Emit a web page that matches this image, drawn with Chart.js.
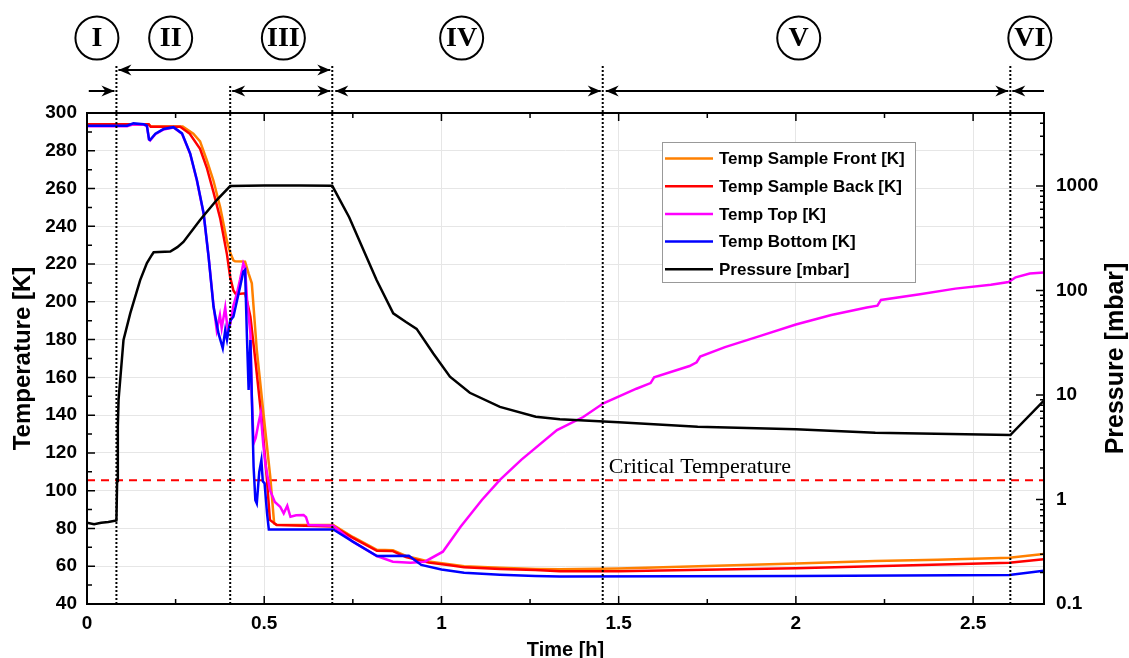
<!DOCTYPE html>
<html>
<head>
<meta charset="utf-8">
<script src="https://cdn.jsdelivr.net/npm/chart.js@4.4.1/dist/chart.umd.min.js"></script>
<style>
  html, body { margin: 0; padding: 0; background: #fff; }
  #wrap { width: 1129px; height: 658px; }
</style>
</head>
<body>
<div id="wrap"><canvas id="grafico" width="1129" height="658"></canvas></div>
<script>
'use strict';

// ── Data ────────────────────────────────────────────────────────
const frontTime = [0, 0.174, 0.18, 0.27, 0.30, 0.319, 0.338, 0.357, 0.376, 0.395,
  0.404, 0.413, 0.418, 0.446, 0.456, 0.465, 0.479, 0.503, 0.517, 0.528,
  0.535, 0.695, 0.75, 0.818, 0.863, 0.90, 0.964, 1.064, 1.165, 1.265,
  1.334, 1.5, 1.7, 2.0, 2.224, 2.4, 2.602, 2.699];
const frontTemp = [294, 294, 292.8, 292.8, 289, 285, 275, 264, 250, 232,
  226, 222, 221.5, 221.3, 215, 209.8, 174.5, 132, 107.4, 82.7,
  82, 81.8, 75.5, 68.7, 68.5, 65.5, 62.5, 60, 59.2, 58.6,
  58.4, 58.8, 59.8, 61.5, 62.8, 63.4, 64.5, 66.5];

const backTime = [0, 0.174, 0.18, 0.263, 0.29, 0.319, 0.338, 0.357, 0.376, 0.395,
  0.404, 0.413, 0.42, 0.446, 0.452, 0.461, 0.475, 0.494, 0.507, 0.516,
  0.535, 0.695, 0.75, 0.818, 0.863, 0.90, 0.964, 1.024, 1.064, 1.165,
  1.265, 1.334, 1.5, 1.7, 2.0, 2.357, 2.602, 2.699];
const backTemp = [294, 294, 292.7, 292.7, 289, 281, 271, 258, 244, 225,
  213, 206, 204, 204.5, 200, 192.1, 169, 135.8, 107.4, 84.5,
  81.8, 81, 75, 68.2, 68, 64.8, 61.9, 60.5, 59.4, 58.5,
  58.0, 57.4, 57.4, 58, 58.9, 60.7, 61.9, 63.7];

const topTime = [0, 0.113, 0.131, 0.16, 0.169, 0.175, 0.178, 0.193, 0.216, 0.244,
  0.268, 0.291, 0.310, 0.329, 0.343, 0.357, 0.366, 0.375, 0.380, 0.390,
  0.397, 0.404, 0.413, 0.423, 0.432, 0.441, 0.446, 0.452, 0.461, 0.465,
  0.470, 0.476, 0.484, 0.490, 0.497, 0.503, 0.516, 0.530, 0.545, 0.555,
  0.565, 0.574, 0.590, 0.611, 0.618, 0.625, 0.695, 0.75, 0.818, 0.863,
  0.913, 0.953, 1.004, 1.054, 1.114, 1.165, 1.225, 1.326, 1.40, 1.457,
  1.55, 1.59, 1.60, 1.70, 1.72, 1.73, 1.80, 1.90, 2.00, 2.10,
  2.20, 2.23, 2.24, 2.35, 2.45, 2.55, 2.60, 2.62, 2.66, 2.70];
const topTemp = [293, 293, 294, 293.8, 293, 286, 285.5, 288.8, 291.3, 292.3,
  289, 278.4, 264.3, 246.7, 224, 198, 185, 193, 186, 197,
  185, 188, 198, 204.5, 212, 220.4, 218, 200, 183.3, 150,
  125, 128, 135.8, 141, 125, 114.5, 100.4, 94, 91.5, 88,
  92, 86.2, 87, 87.1, 86, 81.8, 81.5, 73, 65.4, 62.4,
  61.9, 62.4, 67.7, 80.9, 95.1, 105.7, 116.3, 132.1, 139, 146.3,
  154, 157, 160, 166, 168, 171, 176, 182, 188, 193,
  197, 198, 201, 204, 207, 209, 210.5, 213, 215, 215.5];

const bottomTime = [0, 0.113, 0.131, 0.16, 0.169, 0.175, 0.178, 0.193, 0.216, 0.244,
  0.268, 0.291, 0.310, 0.329, 0.343, 0.357, 0.371, 0.383, 0.390, 0.395,
  0.404, 0.413, 0.432, 0.441, 0.446, 0.451, 0.456, 0.461, 0.470, 0.475,
  0.479, 0.486, 0.492, 0.496, 0.501, 0.508, 0.513, 0.695, 0.75, 0.818,
  0.908, 0.943, 1.0, 1.064, 1.165, 1.265, 1.334, 2.0, 2.602, 2.699];
const bottomTemp = [293.3, 293.3, 294.5, 294, 293.3, 286, 285.7, 289, 291.5, 292.5,
  289.2, 278.6, 264.5, 246.9, 223.9, 197.4, 183.3, 175.4, 185, 180,
  190, 192.1, 208, 216, 216.9, 183, 153.3, 179.8, 112.7, 95,
  93.3, 110, 116.2, 105, 103.9, 88, 79.5, 79.5, 73, 65.4,
  65.5, 60.7, 58.3, 56.6, 55.5, 54.8, 54.5, 54.8, 55.4, 57.6];

const pressureTime = [0, 0.02, 0.04, 0.06, 0.083, 0.085, 0.087, 0.089, 0.103, 0.122,
  0.150, 0.169, 0.183, 0.188, 0.235, 0.255, 0.272, 0.319, 0.366, 0.404,
  0.5, 0.6, 0.692, 0.74, 0.78, 0.817, 0.864, 0.90, 0.93, 0.977,
  1.024, 1.08, 1.165, 1.266, 1.334, 1.5, 1.723, 2.0, 2.224, 2.605,
  2.699];
const pressureVal = [0.6, 0.58, 0.6, 0.61, 0.63, 1.5, 5, 9, 33.6, 60.5,
  126, 183, 219, 232, 236, 260, 292, 473, 735, 1000,
  1010, 1010, 1005, 500, 244, 126, 60.5, 50, 43, 25,
  15, 10.5, 7.7, 6.2, 5.86, 5.5, 4.98, 4.7, 4.36, 4.14,
  8.8];

const criticalTemp = 105.5;
const phaseBounds = [0.083, 0.404, 0.692, 1.455, 2.605];
const phaseNames = ['I', 'II', 'III', 'IV', 'V', 'VI'];
const phaseLabelAt = [0.028, 0.236, 0.554, 1.057, 2.008, 2.66];
const pressureTicks = [0.1, 1, 10, 100, 1000];

const seriesNames = ['Temp Sample Front [K]', 'Temp Sample Back [K]', 'Temp Top [K]', 'Temp Bottom [K]', 'Pressure [mbar]'];
const seriesColors = ['#ff8000', '#ff0000', '#ff00ff', '#0000ff', '#000000'];

const FONT = "'Liberation Sans', Arial, sans-serif";
const SERIF = "'Liberation Serif', 'Times New Roman', serif";

function serie(times, values) {
  return times.map((t, i) => ({ x: t, y: values[i] }));
}

// ── Phase markers, frame, inner ticks, legend ───────────────────
function punta(ctx, x, yy, dir) {
  ctx.beginPath();
  ctx.moveTo(x, yy);
  ctx.lineTo(x - dir * 13, yy - 5.5);
  ctx.lineTo(x - dir * 9, yy);
  ctx.lineTo(x - dir * 13, yy + 5.5);
  ctx.closePath();
  ctx.fill();
}

function freccia(ctx, x1, x2, yy, head1, head2) {
  ctx.beginPath();
  ctx.moveTo(x1, yy);
  ctx.lineTo(x2, yy);
  ctx.stroke();
  const d = x2 > x1 ? 1 : -1;
  if (head1) punta(ctx, x1, yy, -d);
  if (head2) punta(ctx, x2, yy, d);
}

const decorPlugin = {
  id: 'decor',
  afterDraw(chart) {
    const { ctx, chartArea: a, scales } = chart;
    const sx = scales.x, sy = scales.y, sp = scales.p;
    ctx.save();
    ctx.strokeStyle = '#000';
    ctx.fillStyle = '#000';

    // inner ticks
    ctx.lineWidth = 1.5;
    ctx.beginPath();
    for (let t = 0; t <= 2.7001; t += 0.25) {
      const px = sx.getPixelForValue(t);
      const len = Math.abs(t / 0.5 - Math.round(t / 0.5)) < 1e-6 ? 8 : 5;
      ctx.moveTo(px, a.bottom); ctx.lineTo(px, a.bottom - len);
      ctx.moveTo(px, a.top); ctx.lineTo(px, a.top + len);
    }
    for (let v = 40; v <= 300; v += 10) {
      const py = sy.getPixelForValue(v);
      const len = v % 20 === 0 ? 8 : 5;
      ctx.moveTo(a.left, py); ctx.lineTo(a.left + len, py);
    }
    for (let d = -1; d <= 3; d++) {
      for (let k = 1; k <= 9; k++) {
        const v = k * Math.pow(10, d);
        if (v > 5000) break;
        const py = sp.getPixelForValue(v);
        const len = k === 1 ? 8 : 4;
        ctx.moveTo(a.right, py); ctx.lineTo(a.right - len, py);
      }
    }
    ctx.stroke();

    // frame
    ctx.lineWidth = 2;
    ctx.strokeRect(a.left, a.top, a.right - a.left, a.bottom - a.top);

    // dotted phase boundaries
    ctx.setLineDash([2, 2]);
    phaseBounds.forEach((t, i) => {
      const px = sx.getPixelForValue(t);
      ctx.beginPath();
      ctx.moveTo(px, i === 1 ? 86 : 66);
      ctx.lineTo(px, a.bottom);
      ctx.stroke();
    });
    ctx.setLineDash([]);

    // arrows
    const b = phaseBounds.map(t => sx.getPixelForValue(t));
    const row1 = 70, row2 = 91;
    ctx.lineWidth = 2;
    freccia(ctx, b[0] + 2, b[2] - 2, row1, true, true);
    freccia(ctx, sx.getPixelForValue(0.005), b[0] - 2, row2, false, true);
    freccia(ctx, b[1] + 2, b[2] - 2, row2, true, true);
    freccia(ctx, b[2] + 3, b[3] - 2, row2, true, true);
    freccia(ctx, b[3] + 3, b[4] - 2, row2, true, true);
    freccia(ctx, a.right, b[4] + 2, row2, false, true);

    // roman numerals in circles
    ctx.font = 'bold 28px ' + SERIF;
    ctx.textAlign = 'center';
    ctx.textBaseline = 'middle';
    phaseNames.forEach((n, i) => {
      const cx = sx.getPixelForValue(phaseLabelAt[i]);
      ctx.beginPath();
      ctx.arc(cx, 38, 21.5, 0, Math.PI * 2);
      ctx.stroke();
      ctx.fillText(n, cx, 39);
    });

    // critical temperature label
    ctx.font = '22px ' + SERIF;
    ctx.textAlign = 'left';
    ctx.textBaseline = 'alphabetic';
    ctx.fillText('Critical Temperature', b[3] + 6, 473);

    // right axis title (reads bottom to top)
    ctx.save();
    ctx.translate(1116, (a.top + a.bottom) / 2);
    ctx.rotate(-Math.PI / 2);
    ctx.font = 'bold 25px ' + FONT;
    ctx.textAlign = 'center';
    ctx.textBaseline = 'middle';
    ctx.fillText('Pressure [mbar]', 0, 0);
    ctx.restore();

    // legend
    ctx.fillStyle = '#fff';
    ctx.fillRect(662, 142, 253, 140);
    ctx.strokeStyle = '#999';
    ctx.lineWidth = 1;
    ctx.strokeRect(662.5, 142.5, 253, 140);
    ctx.font = 'bold 17px ' + FONT;
    ctx.textBaseline = 'middle';
    ctx.textAlign = 'left';
    seriesNames.forEach((n, i) => {
      const yy = 158.5 + i * 27.7;
      ctx.strokeStyle = seriesColors[i];
      ctx.lineWidth = 2.5;
      ctx.beginPath();
      ctx.moveTo(665, yy); ctx.lineTo(713, yy);
      ctx.stroke();
      ctx.fillStyle = '#000';
      ctx.fillText(n, 719, yy + 1);
    });
    ctx.restore();
  }
};

// ── Chart ───────────────────────────────────────────────────────
const ctx = document.getElementById('grafico').getContext('2d');

const lineDs = (i, times, values, axis, order) => ({
  label: seriesNames[i],
  data: serie(times, values),
  borderColor: seriesColors[i],
  borderWidth: 2.5,
  yAxisID: axis,
  order: order
});

new Chart(ctx, {
  type: 'line',
  data: {
    datasets: [
      lineDs(0, frontTime, frontTemp, 'y', 5),
      lineDs(1, backTime, backTemp, 'y', 4),
      lineDs(2, topTime, topTemp, 'y', 3),
      lineDs(3, bottomTime, bottomTemp, 'y', 2),
      lineDs(4, pressureTime, pressureVal, 'p', 1),
      {
        label: 'Critical Temperature',
        data: [{ x: 0, y: criticalTemp }, { x: 2.7, y: criticalTemp }],
        borderColor: '#ff0000',
        borderWidth: 2,
        borderDash: [8, 6],
        yAxisID: 'y',
        order: 6
      }
    ]
  },
  options: {
    responsive: false,
    animation: false,
    events: [],
    layout: { padding: { top: 113, left: 0, right: 0, bottom: 0 } },
    elements: { point: { radius: 0 }, line: { tension: 0 } },
    plugins: { legend: { display: false }, tooltip: { enabled: false } },
    scales: {
      x: {
        type: 'linear', min: 0, max: 2.7,
        afterFit: s => { s.height = 54; },
        ticks: { stepSize: 0.5, includeBounds: false, padding: 8, color: '#000',
          callback: v => String(Math.round(v * 10) / 10),
          font: { family: FONT, size: 19, weight: 'bold' } },
        grid: { color: '#e6e6e6', drawTicks: false },
        border: { display: false },
        title: { display: true, text: 'Time [h]', color: '#000', padding: { bottom: 0, top: 0 },
          font: { family: FONT, size: 20, weight: 'bold', lineHeight: 0.8 } }
      },
      y: {
        position: 'left', min: 40, max: 300,
        afterFit: s => { s.width = 87; },
        ticks: { stepSize: 20, padding: 10, color: '#000',
          font: { family: FONT, size: 19, weight: 'bold' } },
        grid: { color: '#e6e6e6', drawTicks: false },
        border: { display: false },
        title: { display: true, text: 'Temperature [K]', color: '#000', padding: { top: 9, bottom: 0 },
          font: { family: FONT, size: 24, weight: 'bold', lineHeight: 1.2 } }
      },
      p: {
        type: 'logarithmic', position: 'right', min: 0.1, max: 5000,
        afterFit: s => { s.width = 85; },
        afterBuildTicks: s => { s.ticks = pressureTicks.map(v => ({ value: v })); },
        ticks: { padding: 12, color: '#000', callback: v => String(v),
          font: { family: FONT, size: 19, weight: 'bold' } },
        grid: { display: false, drawTicks: false },
        border: { display: false }
      }
    }
  },
  plugins: [decorPlugin]
});
</script>
</body>
</html>
